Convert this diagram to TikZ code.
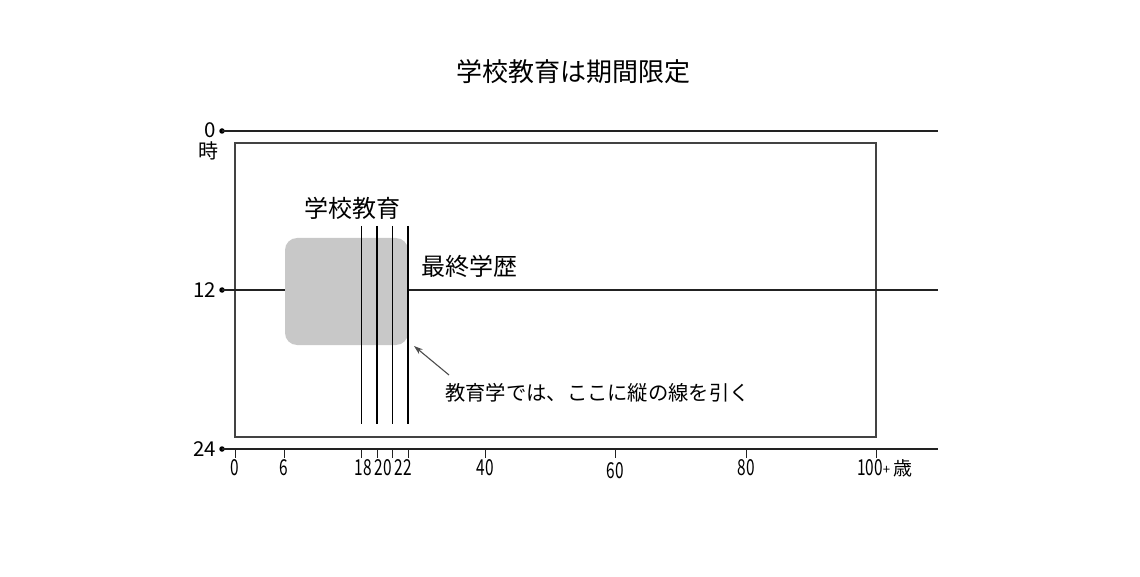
\documentclass[tikz,border=0pt]{standalone}
\usepackage{fontspec}
\setmainfont{Noto Sans CJK JP}
\usetikzlibrary{arrows.meta}
\definecolor{boxgray}{HTML}{C8C8C8}
\definecolor{linegray}{HTML}{222222}
\begin{document}
\begin{tikzpicture}[x=1pt,y=-1pt,
  axisline/.style={line width=1.1pt,draw=linegray},
  framebox/.style={line width=1.1pt,draw=linegray!85},
  tickmark/.style={line width=1pt,draw=linegray},
  vline/.style={line width=1.1pt,draw=black},
  dotmark/.style={circle,fill=black,inner sep=0pt,minimum size=5.5pt},
  hourlab/.style={font=\fontsize{20.5}{20.5}\selectfont,inner sep=0pt,anchor=east},
  agelab/.style={font=\fontsize{22}{22}\selectfont,inner sep=0pt},
  biglab/.style={font=\fontsize{24}{24}\selectfont,inner sep=0pt},
  notelab/.style={font=\fontsize{20.3}{20.3}\selectfont,inner sep=0pt,anchor=west},
  arrowline/.style={line width=1.1pt,draw=black!70,-{Stealth[length=9pt,width=6pt]}}
]
\useasboundingbox (0,0) rectangle (1140,577);
% title
\node[font=\fontsize{26}{26}\selectfont,inner sep=0pt] (title) at (573,72) {学校教育は期間限定};
% frame
\draw[framebox] (235,143) rectangle (876,437);
% hour dots and lines
\node[dotmark] (d0) at (222,131) {};
\node[dotmark] (d12) at (222,290) {};
\node[dotmark] (d24) at (222,449) {};
\coordinate (e0) at (938,131);
\coordinate (e12) at (938,290);
\coordinate (e24) at (938,449);
\draw[axisline] (d0.center) -- (e0);
\draw[axisline] (d12.center) -- (e12);
\draw[axisline] (d24.center) -- (e24);
\node[hourlab] (h0) at (216,130) {0};
\node[font=\fontsize{20}{20}\selectfont,inner sep=0pt] (hji) at (208,151) {時};
\node[hourlab] (h12) at (216,290) {12};
\node[hourlab] (h24) at (216,449) {24};
% grey box
\node[fill=boxgray,rounded corners=12pt,minimum width=123pt,minimum height=107pt,inner sep=0pt] (school) at (346.5,291.5) {};
% vertical lines
\foreach \n/\x in {a/361.5,b/377,c/392.5,d/408}{
  \coordinate (\n top) at (\x,226);
  \coordinate (\n bot) at (\x,424);
  \draw[vline] (\n top) -- (\n bot);
}
% ticks
\foreach \n/\x in {t0/235,t6/284,t18/361.5,t20/377,t22/392.5,t24/408,t40/485,t60/615,t80/746,t100/876}{
  \coordinate (\n a) at (\x,449);
  \coordinate (\n b) at (\x,458);
  \draw[tickmark] (\n a) -- (\n b);
}
% age labels
\node[agelab] (l0) at (235,468) {\scalebox{0.7}[1]{0}};
\node[agelab] (l6) at (284,468) {\scalebox{0.7}[1]{6}};
\node[agelab] (l18) at (363.5,468) {\scalebox{0.7}[1]{18}};
\node[agelab] (l20) at (383.5,468) {\scalebox{0.7}[1]{20}};
\node[agelab] (l22) at (403,468) {\scalebox{0.7}[1]{22}};
\node[agelab] (l40) at (485,468) {\scalebox{0.7}[1]{40}};
\node[agelab] (l60) at (615,471) {\scalebox{0.7}[1]{60}};
\node[agelab] (l80) at (746,468) {\scalebox{0.7}[1]{80}};
\node[agelab,anchor=west] (l100) at (857,468) {\scalebox{0.7}[1]{100}\raisebox{1pt}{\scalebox{0.6}{+}}\,\fontsize{19}{19}\selectfont 歳};
% labels
\node[biglab] (gakko) at (352,208) {学校教育};
\node[biglab,anchor=west] (saishu) at (421,266) {最終学歴};
\node[notelab] (note) at (445,393) {教育学では、ここに縦の線を引く};
% arrow
\coordinate (atail) at (449,375);
\coordinate (atip) at (414,346);
\draw[arrowline] (atail) -- (atip);
\end{tikzpicture}
\end{document}
